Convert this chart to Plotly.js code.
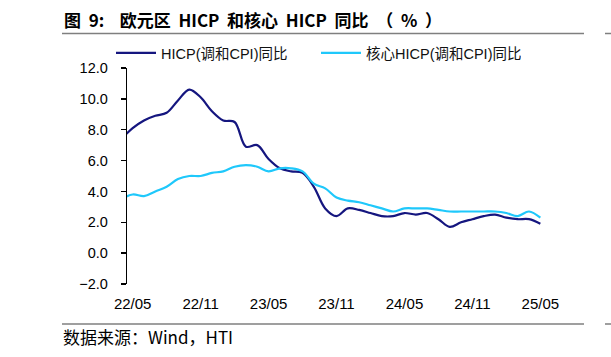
<!DOCTYPE html>
<html>
<head>
<meta charset="utf-8">
<script src="https://cdn.plot.ly/plotly-3.0.1.min.js"></script>
<style>html,body{margin:0;padding:0;background:#fff;}#chart{width:611px;height:357px;}</style>
</head>
<body>
<div id="chart"></div>
<script>
// ---- data (monthly, YoY %) ----
const months = ['22/04','22/05','22/06','22/07','22/08','22/09','22/10','22/11','22/12',
  '23/01','23/02','23/03','23/04','23/05','23/06','23/07','23/08','23/09','23/10','23/11','23/12',
  '24/01','24/02','24/03','24/04','24/05','24/06','24/07','24/08','24/09','24/10','24/11','24/12',
  '25/01','25/02','25/03','25/04','25/05'];
const hicp = [7.4,8.1,8.6,8.9,9.1,9.9,10.6,10.1,9.2,
  8.6,8.5,6.9,7.0,6.1,5.5,5.3,5.2,4.3,2.9,2.4,2.9,
  2.8,2.6,2.4,2.4,2.6,2.5,2.6,2.2,1.7,2.0,2.2,2.4,
  2.5,2.3,2.2,2.2,1.9];
const core = [3.5,3.8,3.7,4.0,4.3,4.8,5.0,5.0,5.2,
  5.3,5.6,5.7,5.6,5.3,5.5,5.5,5.3,4.5,4.2,3.6,3.4,
  3.3,3.1,2.9,2.7,2.9,2.9,2.9,2.8,2.7,2.7,2.7,2.7,
  2.7,2.6,2.4,2.7,2.3];
const tickLabels = ['22/05','22/11','23/05','23/11','24/05','24/11','25/05'];
const seriesNames = ['HICP(调和CPI)同比','核心HICP(调和CPI)同比'];
const titleText = '图\u00a0\u00a09:\u00a0\u00a0\u00a0\u00a0欧元区\u00a0\u00a0HICP\u00a0\u00a0和核心\u00a0\u00a0HICP\u00a0\u00a0同比\u00a0\u00a0（\u00a0\u00a0%\u00a0\u00a0）';
const sourceText = '数据来源：Wind，HTI';

// ---- geometry ----
const W = 611, H = 357;
const M = {l:127, r:65, t:68, b:73};
const pw = W - M.l - M.r, ph = H - M.t - M.b;
const px = x => (x - M.l) / pw;
const py = y => (H - M.b - y) / ph;

const xIdx = months.map((m,i) => i);
const labelVals = tickLabels.map(t => months.indexOf(t));
const boundaryVals = labelVals.slice(1).map(v => v - 0.5);
const yMin = -2, yMax = 12;

const FONT = 'Liberation Sans, Arial, "Noto Sans CJK SC", sans-serif';
const CJK = '"Noto Sans CJK SC", "Liberation Sans", sans-serif';

const traces = [
  {x: xIdx, y: hicp, name: seriesNames[0], type: 'scatter', mode: 'lines',
   line: {color: '#15167f', width: 2.2, shape: 'spline', smoothing: 1}},
  {x: xIdx, y: core, name: seriesNames[1], type: 'scatter', mode: 'lines',
   line: {color: '#1fc8fb', width: 2.2, shape: 'spline', smoothing: 1}}
];

const layout = {
  width: W, height: H,
  margin: M,
  paper_bgcolor: '#fff', plot_bgcolor: '#fff',
  font: {family: FONT, size: 14, color: '#000'},
  showlegend: true,
  legend: {orientation: 'h', x: px(111), xanchor: 'left', y: py(53), yanchor: 'middle',
    font: {family: FONT, size: 14.5, color: '#111'}, bgcolor: 'rgba(0,0,0,0)',
    entrywidth: 150, entrywidthmode: 'pixels', itemwidth: 40, tracegroupgap: 0},
  xaxis: {range: [0.5, months.length - 0.5], tickmode: 'array', tickvals: labelVals, ticktext: tickLabels,
    ticks: '', showline: false, showgrid: false, zeroline: false, fixedrange: true,
    tickfont: {family: FONT, size: 15, color: '#000'}, ticklabelstandoff: 9},
  xaxis2: {overlaying: 'x', anchor: 'free', position: (0 - yMin) / (yMax - yMin), side: 'bottom',
    range: [0.5, months.length - 0.5], tickmode: 'array', tickvals: boundaryVals,
    ticks: 'outside', ticklen: 4, tickcolor: '#000', tickwidth: 1.3, showticklabels: false,
    showline: true, linecolor: '#000', linewidth: 1.3, showgrid: false, zeroline: false},
  yaxis: {range: [yMin, yMax], dtick: 2, tick0: 0, tickformat: '.1f',
    ticks: 'outside', ticklen: 5, tickcolor: '#000', tickwidth: 1.3,
    showline: true, linecolor: '#000', linewidth: 1.3, showgrid: false, zeroline: false,
    tickfont: {family: FONT, size: 14.5, color: '#000'}, ticklabelstandoff: 10},
  title: {text: '<b>' + titleText + '</b>', xref: 'container', yref: 'container',
    x: 64 / W, xanchor: 'left', y: 1 - 21 / H, yanchor: 'middle',
    font: {family: CJK, size: 17, color: '#000'}},
  shapes: [
    {type: 'line', xref: 'paper', yref: 'paper', x0: px(62), x1: px(584), y0: py(33.5), y1: py(33.5),
     line: {color: '#7f7f7f', width: 1.5}},
    {type: 'line', xref: 'paper', yref: 'paper', x0: px(62), x1: px(584), y0: py(324), y1: py(324),
     line: {color: '#7f7f7f', width: 1.5}},
    {type: 'line', xref: 'paper', yref: 'paper', x0: px(605), x1: px(612), y0: py(33.5), y1: py(33.5),
     line: {color: '#7f7f7f', width: 1.5}},
    {type: 'line', xref: 'paper', yref: 'paper', x0: px(605), x1: px(612), y0: py(324), y1: py(324),
     line: {color: '#7f7f7f', width: 1.5}}
  ],
  annotations: [
    {text: sourceText, xref: 'paper', yref: 'paper', x: px(61), y: py(336), xanchor: 'left', yanchor: 'middle',
     showarrow: false, font: {family: CJK, size: 17, color: '#000'}}
  ]
};

Plotly.newPlot('chart', traces, layout, {staticPlot: true, displayModeBar: false});
</script>
</body>
</html>
